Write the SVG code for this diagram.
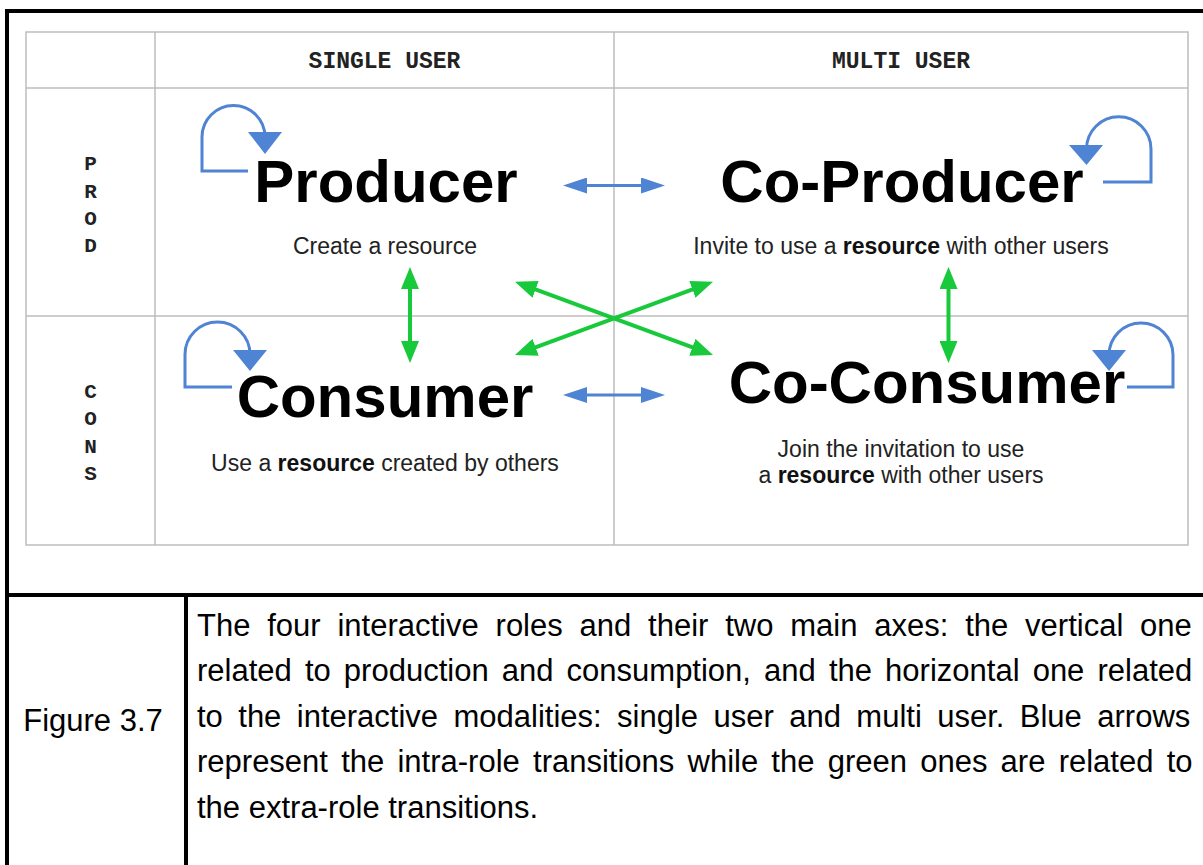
<svg xmlns="http://www.w3.org/2000/svg" width="1203" height="865" viewBox="0 0 1203 865">
<style>
.frame{stroke:#000;stroke-width:4;fill:none}
.grid{stroke:#bdbdbd;stroke-width:1.5;fill:none}
.hdr{font-family:"Liberation Mono","Courier New",monospace;font-weight:bold;font-size:23px;fill:#222;text-anchor:middle}
.side{font-family:"Liberation Mono","Courier New",monospace;font-weight:bold;font-size:21px;fill:#222;text-anchor:middle}
.role{font-family:"Liberation Sans",Arial,sans-serif;font-weight:bold;font-size:60px;fill:#000;text-anchor:middle}
.desc{font-family:"Liberation Sans",Arial,sans-serif;font-size:23px;fill:#222;text-anchor:middle}
.b{font-weight:bold;fill:#111}
.loop{stroke:#4f83d3;stroke-width:3;fill:none}
.loophead{fill:#4f83d3}
.blue{stroke:#4f83d3;stroke-width:3;fill:none}
.green{stroke:#17c93b;stroke-width:4;fill:none}
.cap{font-family:"Liberation Sans",Arial,sans-serif;font-size:31px;fill:#000}
</style>
<defs>
<marker id="bh" markerUnits="userSpaceOnUse" markerWidth="24" markerHeight="16" refX="6" refY="8" orient="auto-start-reverse"><path d="M0,0 L24,8 L0,16 z" fill="#4f83d3"/></marker>
<marker id="gh" markerUnits="userSpaceOnUse" markerWidth="22" markerHeight="18" refX="6" refY="9" orient="auto-start-reverse"><path d="M0,0 L22,9 L0,18 z" fill="#17c93b"/></marker>
</defs>
<rect width="1203" height="865" fill="#fff"/>
<g id="frame">
<line class="frame" x1="7" y1="11" x2="1203" y2="11"/>
<line class="frame" x1="7" y1="9" x2="7" y2="865"/>
<line class="frame" x1="7" y1="595" x2="1203" y2="595"/>
<line class="frame" x1="186" y1="595" x2="186" y2="865"/>
</g>
<g id="table">
<rect class="grid" x="26" y="32" width="1162" height="513"/>
<line class="grid" x1="26" y1="88" x2="1188" y2="88"/>
<line class="grid" x1="26" y1="316" x2="1188" y2="316"/>
<line class="grid" x1="155" y1="32" x2="155" y2="545"/>
<line class="grid" x1="614" y1="32" x2="614" y2="545"/>
<text class="hdr" x="384.5" y="68">SINGLE USER</text>
<text class="hdr" x="901" y="68">MULTI USER</text>
<text class="side" x="90.5" y="170">P</text>
<text class="side" x="90.5" y="197.5">R</text>
<text class="side" x="90.5" y="225">O</text>
<text class="side" x="90.5" y="252">D</text>
<text class="side" x="90.5" y="398">C</text>
<text class="side" x="90.5" y="425">O</text>
<text class="side" x="90.5" y="453">N</text>
<text class="side" x="90.5" y="480">S</text>
</g>
<g id="producer">
<path class="loop" d="M248,171 H202 V137 A31.5,31.5 0 0 1 265,137 V134"/>
<polygon class="loophead" points="248,132 282,132 265,154"/>
<text class="role" x="386" y="202">Producer</text>
<text class="desc" x="385" y="254">Create a resource</text>
</g>
<g id="co-producer">
<path class="loop" d="M1103,182 H1151 V149 A32.25,32.25 0 0 0 1086.5,149 V147"/>
<polygon class="loophead" points="1069,145 1103,145 1086.5,165"/>
<text class="role" x="902" y="202">Co-Producer</text>
<text class="desc" x="901" y="254">Invite to use a <tspan class="b">resource</tspan> with other users</text>
</g>
<g id="consumer">
<path class="loop" d="M232,387 H185 V354.5 A32.5,32.5 0 0 1 250,354.5"/>
<polygon class="loophead" points="233,350 267,350 250,371"/>
<text class="role" x="385" y="417">Consumer</text>
<text class="desc" x="385" y="471">Use a <tspan class="b">resource</tspan> created by others</text>
</g>
<g id="co-consumer">
<path class="loop" d="M1127,387 H1173 V355 A32,32 0 0 0 1109,355"/>
<polygon class="loophead" points="1092,350 1126,350 1109,371"/>
<text class="role" x="927" y="403">Co-Consumer</text>
<text class="desc" x="901" y="457">Join the invitation to use</text>
<text class="desc" x="901" y="483">a <tspan class="b">resource</tspan> with other users</text>
</g>
<g id="connectors">
<line class="blue" x1="581" y1="185.5" x2="647" y2="185.5" marker-start="url(#bh)" marker-end="url(#bh)"/>
<line class="blue" x1="581" y1="395" x2="647" y2="395" marker-start="url(#bh)" marker-end="url(#bh)"/>
<line class="green" x1="410" y1="283" x2="410" y2="347" marker-start="url(#gh)" marker-end="url(#gh)"/>
<line class="green" x1="948.5" y1="283" x2="948.5" y2="347" marker-start="url(#gh)" marker-end="url(#gh)"/>
<line class="green" x1="530" y1="287.3" x2="698" y2="349.4" marker-start="url(#gh)" marker-end="url(#gh)"/>
<line class="green" x1="530" y1="349.4" x2="698" y2="287.3" marker-start="url(#gh)" marker-end="url(#gh)"/>
</g>
<g id="caption">
<text class="cap" x="93" y="731" text-anchor="middle">Figure 3.7</text>
<text class="cap" x="197" y="636" word-spacing="8.2">The four interactive roles and their two main axes: the vertical one</text>
<text class="cap" x="197" y="681" word-spacing="4.5">related to production and consumption, and the horizontal one related</text>
<text class="cap" x="197" y="727" word-spacing="6.8">to the interactive modalities: single user and multi user. Blue arrows</text>
<text class="cap" x="197" y="772" word-spacing="4.6">represent the intra-role transitions while the green ones are related to</text>
<text class="cap" x="197" y="818">the extra-role transitions.</text>
</g>
</svg>
